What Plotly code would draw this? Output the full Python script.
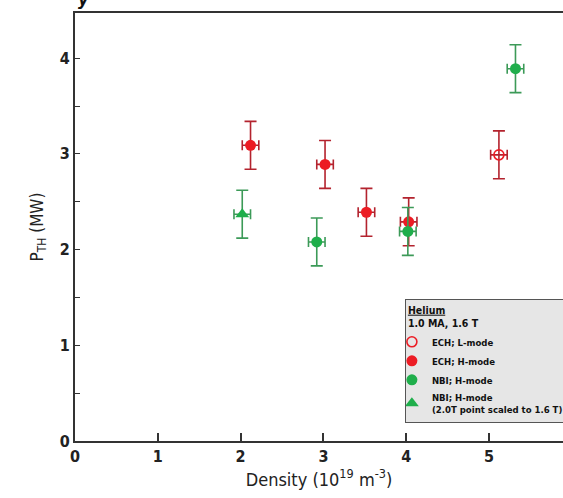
import plotly.graph_objects as go

# ECH L-mode (open circle)
ech_l_x = [5.12]
ech_l_y = [2.99]
# ECH H-mode (filled red circles)
ech_h_x = [2.12, 3.02, 3.52, 4.03]
ech_h_y = [3.09, 2.89, 2.39, 2.29]
# NBI H-mode (green circles)
nbi_h_x = [2.92, 4.02, 5.32]
nbi_h_y = [2.08, 2.19, 3.89]
# NBI H-mode, 2.0 T point scaled to 1.6 T (green triangle)
nbi_t_x = [2.02]
nbi_t_y = [2.37]

y_err = 0.25
x_err = 0.1

RED = "#ec1c24"
RED_ERR = "#b3232e"
GREEN = "#1fae4b"
GREEN_ERR = "#3c9a58"

FONT = "DejaVu Sans Condensed, Liberation Sans Narrow, Liberation Sans, Arial"


def trace(x, y, name, symbol, color, ecolor, size, open_=False):
    n = len(x)
    return go.Scatter(
        x=x, y=y, mode="markers", name=name,
        marker=dict(symbol=symbol, size=size, color=color,
                    line=dict(color=color, width=1.6 if open_ else 0)),
        error_y=dict(type="data", array=[y_err] * n, color=ecolor, thickness=1.6, width=6),
        error_x=dict(type="data", array=[x_err] * n, color=ecolor, thickness=1.6, width=5),
    )


fig = go.Figure()
fig.add_trace(trace(ech_l_x, ech_l_y, "ECH; L-mode", "circle-open", RED, RED_ERR, 10, open_=True))
fig.add_trace(trace(ech_h_x, ech_h_y, "ECH; H-mode", "circle", RED, RED_ERR, 11))
fig.add_trace(trace(nbi_h_x, nbi_h_y, "NBI; H-mode", "circle", GREEN, GREEN_ERR, 11))
fig.add_trace(trace(nbi_t_x, nbi_t_y, "NBI; H-mode<br>(2.0T point scaled to 1.6 T)", "triangle-up", GREEN, GREEN_ERR, 12))

fig.update_layout(
    width=563, height=498,
    margin=dict(l=75, r=0, t=13, b=57, autoexpand=False),
    plot_bgcolor="white", paper_bgcolor="white",
    font=dict(family=FONT, color="#222"),
    showlegend=True,
    legend=dict(
        x=0.676, y=0.042, xanchor="left", yanchor="bottom",
        bgcolor="#e6e6e6", bordercolor="#555", borderwidth=1,
        font=dict(size=9.5, family=FONT, color="#111", weight="bold"),
        title=dict(text="<u>Helium</u><br>1.0 MA, 1.6 T",
                   font=dict(size=10.5, family=FONT, color="#111", weight="bold")),
        itemwidth=30, tracegroupgap=0, indentation=-14,
    ),
    xaxis=dict(
        range=[0, 5.894], tickvals=[0, 1, 2, 3, 4, 5], ticktext=["0", "1", "2", "3", "4", "5"],
        ticks="inside", ticklen=8, tickwidth=1.5, tickcolor="#333",
        showline=True, linecolor="#333", linewidth=2, mirror=True,
        showgrid=False, zeroline=False,
        tickfont=dict(size=16, family=FONT, color="#222", weight="bold"),
        title=dict(text="Density (10<sup>19</sup> m<sup>-3</sup>)",
                   font=dict(size=18, family=FONT, color="#222"), standoff=8),
    ),
    yaxis=dict(
        range=[0, 4.472], tickvals=[0, 1, 2, 3, 4],
        ticks="inside", ticklen=5, tickwidth=1.2, tickcolor="#333",
        minor=dict(tickvals=[0.5, 1.5, 2.5, 3.5], ticks="inside", ticklen=5, tickwidth=1.2, tickcolor="#333"),
        showline=True, linecolor="#333", linewidth=2, mirror=False,
        showgrid=False, zeroline=False,
        tickfont=dict(size=16, family=FONT, color="#222", weight="bold"),
        title=dict(text="P<sub>TH</sub> (MW)", font=dict(size=17, family=FONT, color="#222"), standoff=12),
    ),
)

fig.add_annotation(text="<b><i>y</i></b>", xref="paper", yref="paper", x=0.003, y=1.005,
                   xanchor="left", yanchor="bottom", showarrow=False,
                   font=dict(size=18, family=FONT, color="#111"))

fig.write_html("out.html")
